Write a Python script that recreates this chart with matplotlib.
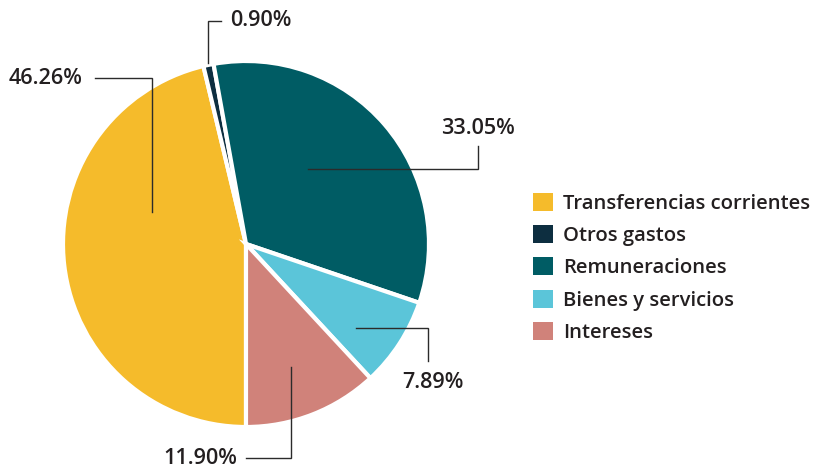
import matplotlib
matplotlib.use("Agg")
import matplotlib.pyplot as plt
from matplotlib.patches import Patch

# data
categories = ["Transferencias corrientes", "Otros gastos", "Remuneraciones",
              "Bienes y servicios", "Intereses"]
shares = [46.26, 0.90, 33.05, 7.89, 11.90]
colors = ["#F5BB2B", "#0D2E40", "#005C64", "#5BC5D9", "#D0827A"]

# label layout (pixel coords, origin top-left)
label_pos = [(46, 78), (261, 20), (478, 128), (433, 383), (200, 459)]
leaders = [
    [(95, 78), (152, 78), (152, 212)],
    [(208, 63), (208, 21), (221, 21)],
    [(478, 146), (478, 169), (308, 169)],
    [(356, 328), (428, 328), (428, 361)],
    [(291, 367), (291, 458), (246, 458)],
]

W, H = 815, 468
plt.rcParams["font.family"] = ["Open Sans", "DejaVu Sans"]
text_color = "#231F20"

fig = plt.figure(figsize=(W / 100, H / 100), dpi=100)
cx, cy, r = 246, 244, 183
ax = fig.add_axes([(cx - r) / W, (H - cy - r) / H, 2 * r / W, 2 * r / H])
wedges, _ = ax.pie(shares, colors=colors, startangle=-90, counterclock=False,
                   radius=1, wedgeprops=dict(edgecolor="white", linewidth=3))
ax.set_xlim(-1, 1)
ax.set_ylim(-1, 1)
ax.set_aspect("equal")
ax.axis("off")

# overlay in pixel coords for labels and leader lines
ov = fig.add_axes([0, 0, 1, 1], zorder=5)
ov.set_xlim(0, W)
ov.set_ylim(H, 0)
ov.axis("off")
ov.patch.set_alpha(0)
for v, (tx, ty), path in zip(shares, label_pos, leaders):
    xs, ys = zip(*path)
    ov.plot(xs, ys, color="#2B2B2B", lw=1.0, solid_joinstyle="miter")
    ov.text(tx, ty, f"{v:.2f}%", ha="center", va="center", fontsize=15.6,
            color=text_color, fontweight="semibold")

handles = [Patch(facecolor=c, edgecolor="none") for c in colors]
fig.legend(handles, categories, loc="upper left",
           bbox_to_anchor=(533 / W, 1 - 193 / H), frameon=False,
           prop=dict(size=14.6, weight="semibold"), handlelength=1.0,
           handleheight=1.0, handletextpad=0.5, labelspacing=0.55,
           borderpad=0, borderaxespad=0, labelcolor=text_color)

fig.savefig("out.png", dpi=100)
